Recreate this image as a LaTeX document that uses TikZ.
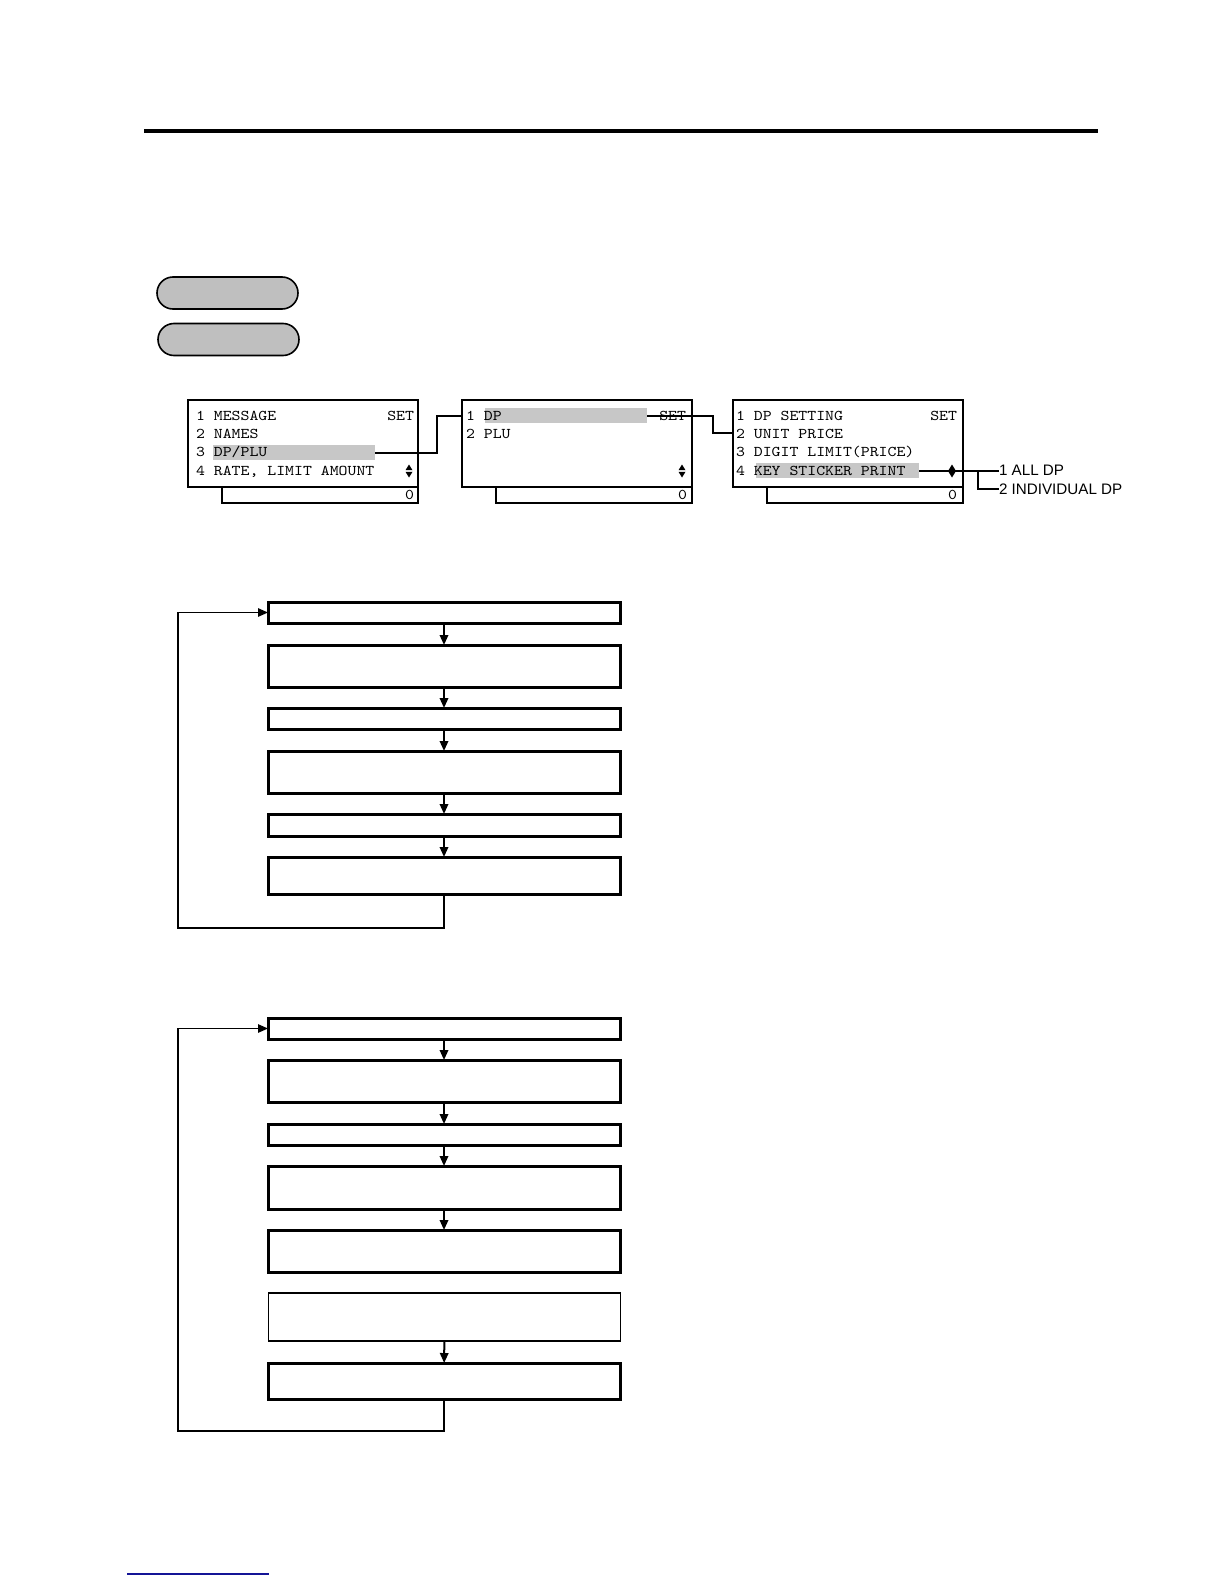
\documentclass[tikz,border=0pt]{standalone}
\usepackage{fontspec}
\newfontfamily\lcdfont[FakeStretch=1.14]{lmmono10-regular.otf}
\newfontfamily\tagfont{Liberation Sans}
\usetikzlibrary{arrows.meta,positioning}
\definecolor{linkblue}{RGB}{20,20,150}
\newcommand{\updn}[2]{%
  \fill (#1-3.5,#2-0.8) -- (#1+3.5,#2-0.8) -- (#1,#2-6.5) -- cycle;
  \fill (#1-3.5,#2+0.8) -- (#1+3.5,#2+0.8) -- (#1,#2+6.5) -- cycle;}

\begin{document}
\begin{tikzpicture}[x=0.5pt,y=-0.5pt,>={Triangle[length=5pt,width=4.2pt]}]
\tikzstyle{every node}=[inner sep=0pt, outer sep=0pt]
\tikzstyle{fbox}=[draw, line width=1.5pt, minimum width=176pt]
\tikzstyle{thinbox}=[draw, line width=0.7pt, minimum width=176pt]
\tikzstyle{arr}=[->, line width=1pt]
\tikzstyle{back}=[->, line width=0.8pt]
\tikzstyle{oval}=[draw, line width=0.8pt, fill=black!25, rounded corners=8pt, minimum width=70.5pt, minimum height=16pt]
\tikzstyle{lcd}=[draw, line width=1pt, minimum width=115pt, minimum height=43.5pt]
\tikzstyle{lcdsub}=[draw, line width=1pt, minimum width=98pt, minimum height=8pt, anchor=north east]
\tikzstyle{row}=[font=\lcdfont\fontsize{7.45}{8}\selectfont, anchor=base west]
\tikzstyle{hilite}=[fill=black!22, minimum width=81pt, minimum height=7.5pt]
\tikzstyle{conn}=[line width=1pt]
\tikzstyle{tag}=[font=\tagfont\fontsize{7.6}{8}\selectfont, anchor=west]
\useasboundingbox (0,0) rectangle (1224,1584);

\draw[line width=2pt] (144,131) -- (1098,131);

\node (k1) [oval] at (227.5,293) {};
\node (k2) [oval] at (228.5,339.5) {};

% menu screens
\node (hl1) [hilite] at (294,452.5) {};
\node (hl2) [hilite] at (566,415.5) {};
\node (hl3) [hilite, minimum width=81.5pt] at (837.5,470.5) {};

\node (m1) [lcd] at (303,443.5) {};
\node (s1) [lcdsub] at (m1.south east) {};
\node (m1r1) [row] at (196,420) {1 MESSAGE};
\node (m1r2) [row] at (196,438) {2 NAMES};
\node (m1r3) [row] at (196,456.5) {3 DP/PLU};
\node (m1r4) [row] at (196,475) {4 RATE, LIMIT AMOUNT};
\node (m1set) [row, anchor=base east] at (414,420) {SET};
\node (s1z) [row, anchor=east] at (414,495) {0};
\updn{409}{471}

\node (m2) [lcd] at (577,443.5) {};
\node (s2) [lcdsub] at (m2.south east) {};
\node (m2r1) [row] at (466,420) {1 DP};
\node (m2r2) [row] at (466,438) {2 PLU};
\node (m2set) [row, anchor=base east] at (686,420) {SET};
\node (s2z) [row, anchor=east] at (687,495) {0};
\updn{682}{471}

\node (m3) [lcd] at (847.5,443.5) {};
\node (s3) [lcdsub] at (m3.south east) {};
\node (m3r1) [row] at (736,420) {1 DP SETTING};
\node (m3r2) [row] at (736,438) {2 UNIT PRICE};
\node (m3r3) [row] at (736,456.5) {3 DIGIT LIMIT(PRICE)};
\node (m3r4) [row] at (736,475) {4 KEY STICKER PRINT};
\node (m3set) [row, anchor=base east] at (957,420) {SET};
\node (s3z) [row, anchor=east] at (957,495) {0};
\updn{952}{471}

\node (alldp) [tag] at (999,470.5) {1 ALL DP};
\node (indiv) [tag] at (999,489) {2 INDIVIDUAL DP};

\draw[conn] (hl1.east) -- ++(62,0) |- (m2.west |- hl2.west);
\draw[conn] (hl2.east) -- ++(66,0) |- (m3.west |- m3r2.west);
\draw[conn] (hl3.east) -- (alldp.west);
\coordinate (br) at (978,470.5);
\draw[conn] (br) |- (indiv.west);

% first flow
\node (a1) [fbox, minimum height=10.5pt] at (444,612.5) {};
\node (a2) [fbox, minimum height=21pt] at (444,666) {};
\node (a3) [fbox, minimum height=10.5pt] at (444,718.5) {};
\node (a4) [fbox, minimum height=21pt] at (444,772) {};
\node (a5) [fbox, minimum height=11pt] at (444,825) {};
\node (a6) [fbox, minimum height=18.5pt] at (444,875.5) {};
\draw[arr] (a1) -- (a2);
\draw[arr] (a2) -- (a3);
\draw[arr] (a3) -- (a4);
\draw[arr] (a4) -- (a5);
\draw[arr] (a5) -- (a6);
\coordinate (c1) at (178,928);
\draw[back] (a6.south) |- (c1) |- (a1.west);

% second flow
\node (b1) [fbox, minimum height=10.5pt] at (444,1028.5) {};
\node (b2) [fbox, minimum height=21pt] at (444,1081) {};
\node (b3) [fbox, minimum height=10.5pt] at (444,1134.5) {};
\node (b4) [fbox, minimum height=21.5pt] at (444,1187.5) {};
\node (b5) [fbox, minimum height=21pt] at (444,1251) {};
\node (b6) [thinbox, minimum height=24pt] at (444.5,1317) {};
\node (b7) [fbox, minimum height=18pt] at (444,1381) {};
\draw[arr] (b1) -- (b2);
\draw[arr] (b2) -- (b3);
\draw[arr] (b3) -- (b4);
\draw[arr] (b4) -- (b5);
\draw[arr] (b6) -- (b7);
\coordinate (c2) at (178,1431);
\draw[back] (b7.south) |- (c2) |- (b1.west);

\draw[linkblue, line width=0.8pt] (127,1574) -- (269,1574);
\end{tikzpicture}
\end{document}
